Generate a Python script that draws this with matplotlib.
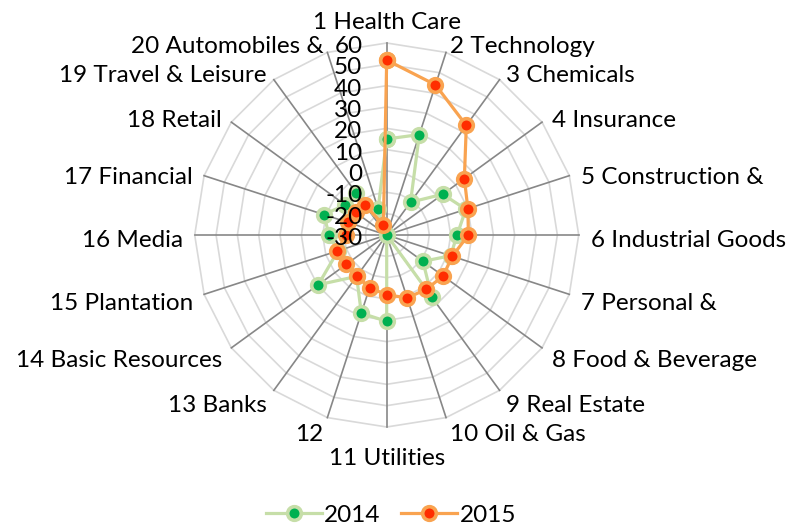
import numpy as np
import matplotlib
matplotlib.use("Agg")
import matplotlib.pyplot as plt

categories = ["1 Health Care", "2 Technology", "3 Chemicals", "4 Insurance",
              "5 Construction &", "6 Industrial Goods", "7 Personal &",
              "8 Food & Beverage", "9 Real Estate", "10 Oil & Gas",
              "11 Utilities", "12", "13 Banks", "14 Basic Resources",
              "15 Plantation", "16 Media", "17 Financial", "18 Retail",
              "19 Travel & Leisure", "20 Automobiles &"]
values_2014 = [15, 19.5, -11, 2.5, 9, 3, 1.5, -9, 6, -30,
               10.5, 8.5, -6, 9.7, -6, -3, 1, -6, -5.5, -17]
values_2015 = [52, 44, 33.5, 15, 10, 8.3, 2.3, 2.7, 1.5, 1,
               -2, -4, -6.3, -6.5, -5.5, -11, -11, -12, -12.5, -25]
series_names = ["2014", "2015"]
radial_ticks = [-30, -20, -10, 0, 10, 20, 30, 40, 50, 60]

plt.rcParams["font.family"] = ["Lato", "DejaVu Sans"]
FS = 17.5

W, H = 801, 529
fig = plt.figure(figsize=(W / 100, H / 100), dpi=100)
cx, cy, R = 386.7, 235, 192
ax = fig.add_axes([(cx - R) / W, 1 - (cy + R) / H, 2 * R / W, 2 * R / H],
                  projection="polar")
ax.set_theta_zero_location("N")
ax.set_theta_direction(-1)
ax.set_ylim(radial_ticks[0], radial_ticks[-1])
ax.grid(False)
ax.spines["polar"].set_visible(False)
ax.set_xticks([])
ax.set_yticks([])
ax.patch.set_alpha(0)

n = len(categories)
theta = np.arange(n) * 2 * np.pi / n
closed = np.append(theta, theta[0])

for t in radial_ticks[1:]:
    ax.plot(closed, [t] * (n + 1), color="#D9D9D9", lw=1.2, zorder=1,
            clip_on=False)
for th in theta:
    ax.plot([th, th], [radial_ticks[0], radial_ticks[-1]], color="#878787",
            lw=1.2, zorder=2, clip_on=False)

styles = [
    dict(color="#C6DEA8", mfc="#00B050", mec="#C6DEA8"),
    dict(color="#F9A350", mfc="#FF2D00", mec="#F9A350"),
]
handles = []
for vals, st, name in zip([values_2014, values_2015], styles, series_names):
    v = np.append(vals, vals[0])
    h, = ax.plot(closed, v, color=st["color"], lw=2.3, marker="o",
                 markersize=9.8, markerfacecolor=st["mfc"],
                 markeredgecolor=st["mec"], markeredgewidth=2.6,
                 zorder=5, clip_on=False, label=name)
    handles.append(h)

off = 8.5
for th, lab in zip(theta, categories):
    s, c = np.sin(th), np.cos(th)
    if abs(s) < 1e-6:
        ha = "center"
        if c > 0:
            va, dx, dy = "bottom", 0, 7.0
        else:
            va, dx, dy = "top", 0, -15.0
    else:
        ha = "left" if s > 0 else "right"
        va = "center"
        dx, dy = off * s, off * c - 3.8
    ax.annotate(lab, xy=(th, radial_ticks[-1]), xytext=(dx, dy),
                textcoords="offset points", ha=ha, va=va, fontsize=FS,
                color="black", annotation_clip=False)

for t in radial_ticks:
    ax.annotate(str(t), xy=(0, t), xytext=(-17.5, -2.5),
                textcoords="offset points", ha="right", va="center",
                fontsize=FS, color="black", zorder=10, annotation_clip=False)

fig.legend(handles, series_names, loc="center", ncol=2,
           bbox_to_anchor=(391 / W, 1 - 515 / H), frameon=False,
           fontsize=FS, handlelength=2.3, handletextpad=0.1,
           columnspacing=0.85, borderaxespad=0, borderpad=0)

fig.savefig("out.png", dpi=100)
